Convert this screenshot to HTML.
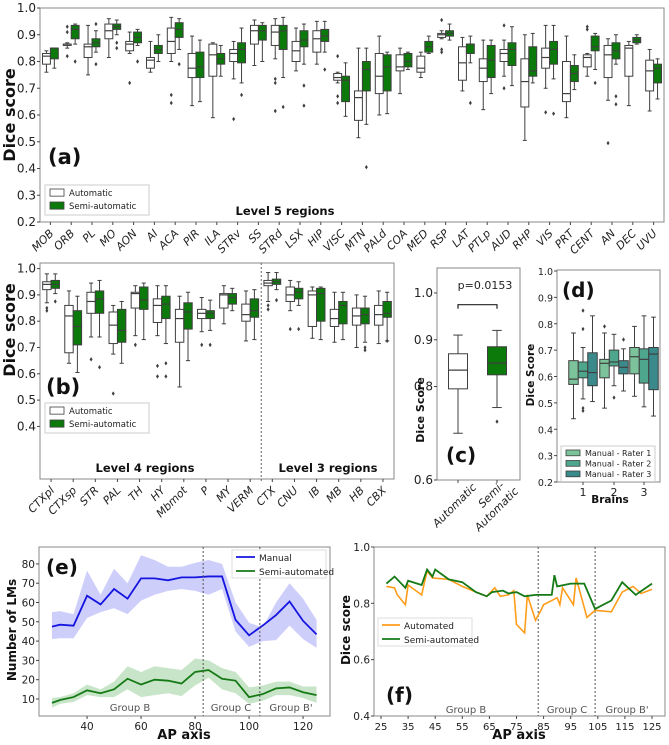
<!DOCTYPE html>
<html><head><meta charset="utf-8">
<style>
body{margin:0;background:#fff;}
svg{display:block;font-family:"DejaVu Sans","Liberation Sans",sans-serif;}
</style></head>
<body>
<svg id="fig" width="669" height="745" viewBox="0 0 669 745" xmlns="http://www.w3.org/2000/svg"></svg>
<script>
// ---------- Panel (a) data: [whislo, q1, median, q3, whishi] ----------
const catsA = ["MOB","ORB","PL","MO","AON","AI","ACA","PIR","ILA","STRv","SS","STRd","LSX","HIP","VISC","MTN","PALd","COA","MED","RSP","LAT","PTLp","AUD","RHP","VIS","PRT","CENT","AN","DEC","UVU"];
const autoA = [[.76,.79,.82,.83,.84],[.85,.86,.865,.865,.87],[.75,.815,.855,.865,.935],[.815,.885,.915,.94,.96],[.83,.84,.865,.875,.91],[.76,.775,.805,.815,.875],[.80,.83,.875,.925,.965],[.635,.74,.775,.83,.895],[.59,.745,.825,.865,.87],[.735,.80,.83,.845,.875],[.785,.865,.915,.935,.955],[.81,.86,.91,.935,.96],[.765,.80,.84,.875,.925],[.79,.835,.885,.915,.95],[.72,.73,.74,.755,.76],[.515,.58,.665,.69,.85],[.60,.68,.745,.83,.895],[.68,.765,.78,.825,.85],[.74,.76,.775,.82,.835],[.885,.89,.90,.905,.915],[.69,.73,.795,.855,.89],[.62,.725,.775,.81,.88],[.745,.80,.83,.845,.88],[.505,.63,.725,.81,.90],[.70,.775,.815,.85,.935],[.59,.65,.68,.80,.895],[.745,.78,.815,.825,.83],[.655,.74,.825,.86,.885],[.635,.745,.85,.86,.875],[.615,.69,.765,.805,.845]];
const semiA = [[.775,.81,.85,.85,.85],[.865,.885,.92,.935,.94],[.835,.855,.87,.885,.915],[.90,.92,.93,.94,.955],[.86,.87,.89,.91,.92],[.80,.83,.845,.86,.90],[.845,.89,.92,.945,.96],[.65,.74,.78,.835,.88],[.745,.79,.81,.83,.86],[.72,.795,.845,.87,.925],[.80,.88,.915,.935,.945],[.74,.845,.915,.935,.965],[.79,.855,.88,.915,.94],[.835,.875,.895,.92,.95],[.595,.65,.73,.745,.795],[.565,.69,.77,.80,.85],[.605,.69,.78,.825,.835],[.77,.78,.80,.83,.835],[.83,.835,.855,.875,.895],[.88,.895,.905,.915,.94],[.795,.83,.865,.865,.895],[.68,.74,.805,.86,.88],[.71,.785,.845,.87,.93],[.72,.745,.765,.855,.905],[.735,.79,.845,.875,.935],[.695,.725,.755,.785,.825],[.77,.84,.855,.895,.905],[.79,.81,.84,.87,.90],[.865,.87,.88,.89,.90],[.66,.72,.775,.79,.81]];
const fliersAutoA = [[],[.82,.91,.93],[],[],[.72],[],[.675,.645],[],[],[.585],[],[.735,.72,.615],[],[],[.82,.67,.645],[],[],[],[],[.955,.845,.835],[],[],[.935,.70],[],[.61],[],[.93,.92],[.495],[],[]];
const fliersSemiA = [[],[.80],[.79,.94],[.85,.87],[.80],[],[.79],[],[],[.675],[],[.63],[.71,.635],[.77],[],[.405],[],[],[],[],[.645],[],[],[],[.605],[],[.72],[.67,.64],[],[]];
const ticksA = [1.0,0.9,0.8,0.7,0.6,0.5,0.4,0.3,0.2];

// ---------- Panel (b) ----------
const catsB = ["CTXpl","CTXsp","STR","PAL","TH","HY","Mbmot","P","MY","VERM","CTX","CNU","IB","MB","HB","CBX"];
const autoB = [[.87,.92,.94,.95,.98],[.64,.68,.82,.86,.915],[.74,.83,.875,.91,.945],[.675,.715,.785,.835,.86],[.745,.85,.905,.91,.935],[.745,.795,.86,.885,.935],[.55,.72,.81,.845,.895],[.76,.81,.83,.845,.89],[.79,.85,.90,.905,.935],[.725,.80,.825,.865,.915],[.875,.935,.945,.955,.985],[.84,.875,.90,.93,.955],[.735,.78,.90,.915,.93],[.72,.78,.81,.845,.91],[.70,.785,.82,.85,.90],[.715,.785,.825,.86,.915]];
const semiB = [[.905,.925,.94,.955,.98],[.605,.71,.78,.84,.895],[.74,.83,.885,.915,.955],[.64,.72,.765,.845,.875],[.73,.845,.88,.93,.945],[.715,.81,.865,.895,.935],[.65,.77,.835,.87,.91],[.765,.81,.83,.84,.88],[.84,.865,.89,.905,.925],[.73,.815,.84,.885,.92],[.92,.94,.95,.96,.985],[.86,.885,.91,.925,.95],[.73,.80,.905,.925,.93],[.73,.79,.86,.875,.91],[.72,.79,.825,.85,.895],[.725,.815,.83,.875,.91]];
const fliersAutoB = [[.85,.84],[],[.655],[.525],[.71],[.63,.59],[],[.71],[],[],[.86,.845],[.77],[],[],[],[]];
const fliersSemiB = [[.875],[],[.625],[],[],[.64,.59],[],[.71],[],[],[.88],[.77],[],[],[.69,.70],[.725]];
const ticksB = [1.0,0.9,0.8,0.7,0.6,0.5,0.4];

// ---------- Panel (c) ----------
const catsC = ["Automatic","Semi-Automatic"];
const boxesC = [[.70,.795,.835,.87,.91],[.755,.825,.85,.885,.92]];
const fliersC = [[],[.725]];
const ticksC = [1.0,0.9,0.8,0.6];

// ---------- Panel (d) ----------
const brainsD = [1,2,3];
const rater1D = [[.44,.57,.59,.66,.765],[.48,.595,.65,.665,.765],[.525,.61,.675,.71,.79]];
const rater2D = [[.515,.595,.62,.655,.71],[.565,.64,.655,.70,.76],[.485,.575,.665,.705,.83]];
const rater3D = [[.505,.565,.615,.69,.83],[.545,.61,.635,.66,.705],[.45,.55,.685,.71,.825]];
const fliers1D = [[],[.79],[]];
const fliers2D = [[.85,.78,.48,.47],[.52],[]];
const fliers3D = [[],[.74],[]];
const ticksD = [1.0,0.9,0.8,0.7,0.6,0.5,0.4,0.3,0.2];

// ---------- Panel (e) ----------
const apE = [27,30,35,40,45,50,55,60,65,70,75,80,85,90,95,100,105,110,115,120,125];
const manualE = [47.5,48.5,48,63.5,59,67,62,72.5,72.5,71.5,73,73,73.5,73.5,51,43,48,53.5,60.5,50.5,43.5];
const manualHiE = [55,55.5,54,76.5,64,77.5,70,84.5,82,78.5,78.5,80.5,82,80,60,49.5,47,60,70,62,51];
const manualLoE = [41,41.5,41.5,52,55,57,54,61,64,66,67,66,64,67,45,37,40,40.5,48,41,36.5];
const semiE = [8,9.5,11,14.5,13,15,20.5,17.5,20,19.5,18,24,25,20.5,19.5,11,12.5,15.5,16,13.5,12];
const semiHiE = [10.5,11,13,17.5,15,19,27,24,27,26,25,31,30,26,24,16,17,19,19,16.5,16.5];
const semiLoE = [5.5,7.5,8.5,12,11,11,15,11,12,13,11.5,17,21,15,13,7.5,9,12,12,10.5,8];
const ticksYE = [80,70,60,50,40,30,20,10];
const ticksXE = [40,60,80,100,120];

// ---------- Panel (f) ----------
const apAutoF = [27,30,31,34,35,40,42,44,50,55,60,64,67,69,72,74,75,78,79,82,84,85,90,91,92,96,97,101,104,110,114,118,121,125];
const autoF = [.86,.855,.83,.795,.865,.83,.915,.89,.885,.86,.84,.825,.855,.825,.83,.845,.725,.695,.83,.74,.775,.795,.82,.795,.855,.795,.89,.75,.775,.77,.84,.86,.835,.85];
const apSemiF = [27,30,34,35,40,42,44,45,50,55,60,64,66,70,72,75,78,82,88,89,90,95,100,104,110,114,119,125];
const semiF = [.87,.895,.855,.88,.865,.92,.895,.92,.885,.875,.84,.825,.84,.845,.835,.84,.825,.83,.83,.9,.86,.87,.87,.78,.81,.875,.83,.87];
const ticksYF = [1.0,0.8,0.6,0.4];
const ticksXF = [25,35,45,55,65,75,85,95,105,115,125];

const NS="http://www.w3.org/2000/svg";
const svg=document.getElementById('fig');
function mk(tag,attrs,parent,text){const e=document.createElementNS(NS,tag);for(const k in attrs)e.setAttribute(k,attrs[k]);if(text!==undefined)e.textContent=text;(parent||svg).appendChild(e);return e;}
function grp(name){const g=mk('g',{});return g;}
const EDGE="#3f3f3f";

function drawBox(g,cx,w,b,fl,fill,name,ys){
  const bg=mk('g',{},g);
  
  
  mk('line',{x1:cx,x2:cx,y1:ys(b[0]),y2:ys(b[1]),stroke:EDGE,'stroke-width':1},bg);
  mk('line',{x1:cx,x2:cx,y1:ys(b[3]),y2:ys(b[4]),stroke:EDGE,'stroke-width':1},bg);
  mk('line',{x1:cx-w/4,x2:cx+w/4,y1:ys(b[0]),y2:ys(b[0]),stroke:EDGE,'stroke-width':1},bg);
  mk('line',{x1:cx-w/4,x2:cx+w/4,y1:ys(b[4]),y2:ys(b[4]),stroke:EDGE,'stroke-width':1},bg);
  mk('rect',{x:cx-w/2,y:ys(b[3]),width:w,height:Math.max(0.8,ys(b[1])-ys(b[3])),fill:fill,stroke:EDGE,'stroke-width':1},bg);
  mk('line',{x1:cx-w/2,x2:cx+w/2,y1:ys(b[2]),y2:ys(b[2]),stroke:EDGE,'stroke-width':1.2},bg);
  (fl||[]).forEach(v=>{const y=ys(v);mk('path',{d:`M${cx} ${y-2.2}L${cx+1.5} ${y}L${cx} ${y+2.2}L${cx-1.5} ${y}Z`,fill:EDGE},bg);});
}
function axesBox(g,x0,y0,x1,y1){mk('rect',{x:x0,y:y0,width:x1-x0,height:y1-y0,fill:'none',stroke:'#888','stroke-width':1},g);}
function yTicks(g,ticks,ys,x,fmt,size){ticks.forEach(t=>{const y=ys(t);mk('line',{x1:x-3,x2:x,y1:y,y2:y,stroke:'#444'},g);const tx=mk('text',{x:x-4,y:y+4,'font-size':size||11,'text-anchor':'end',fill:'#222'},g,fmt(t));});}
function rotLabel(g,x,y,s,size){const t=mk('text',{x:x,y:y,'font-size':size||11,'text-anchor':'end',transform:`rotate(-45 ${x} ${y})`,'font-style':'italic',fill:'#222'},g,s);}
function legendBoxes(g,x,y,w,entries,size,step){step=step||15;mk('rect',{x:x,y:y,width:w,height:entries.length*step+4,fill:'#fff',stroke:'#ccc'},g);entries.forEach((e,i)=>{const eg=mk('g',{},g);mk('rect',{x:x+5,y:y+4+i*step,width:14,height:step*0.55,fill:e[1],stroke:EDGE,'stroke-width':0.8},eg);mk('text',{x:x+24,y:y+4+i*step+step*0.55,'font-size':size||9,fill:'#222'},eg,e[0]);});}

// ===== Panel a =====
(function(){
 const g=grp('panel-a');
 const X0=40,X1=664,Y0=8,Y1=222;
 const ys=v=>Y1-(v-0.2)/0.8*(Y1-Y0);
 axesBox(g,X0,Y0,X1,Y1);
 yTicks(g,ticksA,ys,X0,t=>t.toFixed(1),12);
 const slot=(X1-X0)/catsA.length,w=slot*0.38;
 catsA.forEach((c,i)=>{const cx=X0+slot*(i+0.5);
  drawBox(g,cx-w/2,w,autoA[i],fliersAutoA[i],'#fff','box-auto-'+c,ys);
  drawBox(g,cx+w/2,w,semiA[i],fliersSemiA[i],'#0b7a0b','box-semi-'+c,ys);
  mk('line',{x1:cx,x2:cx,y1:Y1,y2:Y1+3,stroke:'#444'},g);
  rotLabel(g,cx+4,Y1+12,c,11);
 });
 const t=mk('text',{x:48,y:164,'font-size':21,'font-weight':'bold',fill:'#111'},g,'(a)');
 const l=mk('text',{x:285,y:215,'font-size':11.5,'font-weight':'bold','text-anchor':'middle',fill:'#111'},g,'Level 5 regions');
 const yl=mk('text',{x:0,y:0,'font-size':16,'font-weight':'bold','text-anchor':'middle',transform:'translate(15 115) rotate(-90)',fill:'#111'},g,'Dice score');
 const lg=mk('g',{},g);
 legendBoxes(lg,45,185,104,[['Automatic','#fff'],['Semi-automatic','#0b7a0b']],8.5,13);
})();

// ===== Panel b =====
(function(){
 const g=grp('panel-b');
 const X0=40,X1=394,Y0=263,Y1=479;
 const ys=v=>Y1-(v-0.2)*263;
 axesBox(g,X0,Y0,X1,Y1);
 yTicks(g,ticksB,ys,X0,t=>t.toFixed(1),12);
 const slot=(X1-X0)/catsB.length,w=slot*0.38;
 catsB.forEach((c,i)=>{const cx=X0+slot*(i+0.5);
  drawBox(g,cx-w/2,w,autoB[i],fliersAutoB[i],'#fff','box-auto-'+c,ys);
  drawBox(g,cx+w/2,w,semiB[i],fliersSemiB[i],'#0b7a0b','box-semi-'+c,ys);
  mk('line',{x1:cx,x2:cx,y1:Y1,y2:Y1+3,stroke:'#444'},g);
  rotLabel(g,cx+4,Y1+12,c,11);
 });
 const dx=X0+slot*10;
 mk('line',{x1:dx,x2:dx,y1:Y0,y2:Y1+4,stroke:'#666','stroke-dasharray':'2,2'},g);
 const t=mk('text',{x:46,y:394,'font-size':21,'font-weight':'bold',fill:'#111'},g,'(b)');
 const l1=mk('text',{x:145,y:472,'font-size':11.5,'font-weight':'bold','text-anchor':'middle',fill:'#111'},g,'Level 4 regions');
 const l2=mk('text',{x:328,y:472,'font-size':11.5,'font-weight':'bold','text-anchor':'middle',fill:'#111'},g,'Level 3 regions');
 const yl=mk('text',{x:0,y:0,'font-size':16,'font-weight':'bold','text-anchor':'middle',transform:'translate(15 330) rotate(-90)',fill:'#111'},g,'Dice score');
 const lg=mk('g',{},g);
 legendBoxes(lg,45,403,104,[['Automatic','#fff'],['Semi-automatic','#0b7a0b']],8.5,13);
})();

// ===== Panel c =====
(function(){
 const g=grp('panel-c');
 const X0=437,X1=520,Y0=268,Y1=480;
 const ys=v=>Y1-(v-0.6)*467.5;
 axesBox(g,X0,Y0,X1,Y1);
 yTicks(g,ticksC,ys,X0,t=>t.toFixed(1),12);
 const cxs=[458,497];
 catsC.forEach((c,i)=>{drawBox(g,cxs[i],19,boxesC[i],fliersC[i],i?'#0b7a0b':'#fff','box-'+c.toLowerCase(),ys);mk('line',{x1:cxs[i],x2:cxs[i],y1:Y1,y2:Y1+3,stroke:'#444'},g);});
 const by=ys(0.975);
 mk('path',{d:`M${cxs[0]} ${by+4}V${by}H${cxs[1]}V${by+4}`,fill:'none',stroke:'#222','stroke-width':1.2},g);
 const p=mk('text',{x:485,y:289,'font-size':11,'text-anchor':'middle',fill:'#222'},g,'p=0.0153');
 const t=mk('text',{x:446,y:462,'font-size':20,'font-weight':'bold',fill:'#111'},g,'(c)');
 rotLabel(g,477,488,'Automatic',11);
 rotLabel(g,505,486,'Semi-',11);
 rotLabel(g,519,492,'Automatic',11);
 const yl=mk('text',{x:0,y:0,'font-size':11,'font-weight':'bold','text-anchor':'middle',transform:'translate(424 410) rotate(-90)',fill:'#111'},g,'Dice Score');
})();

// ===== Panel d =====
(function(){
 const g=grp('panel-d');
 const X0=557,X1=660,Y0=270,Y1=482;
 const ys=v=>Y1-(v-0.2)*(Y1-271)/0.8;
 axesBox(g,X0,Y0,X1,Y1);
 yTicks(g,ticksD,ys,X0,t=>t.toFixed(1),9.5);
 const cxs=[583,614,644],w=9.5;
 const cols=['#7cc29a','#4ea68c','#3a8a8c'];
 brainsD.forEach((b,i)=>{const cx=cxs[i];
  drawBox(g,cx-w,w,rater1D[i],fliers1D[i],cols[0],'box-brain'+b+'-rater1',ys);
  drawBox(g,cx,w,rater2D[i],fliers2D[i],cols[1],'box-brain'+b+'-rater2',ys);
  drawBox(g,cx+w,w,rater3D[i],fliers3D[i],cols[2],'box-brain'+b+'-rater3',ys);
  mk('line',{x1:cx,x2:cx,y1:Y1,y2:Y1+3,stroke:'#444'},g);
  const tl=mk('text',{x:cx,y:Y1+14,'font-size':11,'text-anchor':'middle',fill:'#222'},g,String(b));
 });
 const t=mk('text',{x:562,y:297,'font-size':20,'font-weight':'bold',fill:'#111'},g,'(d)');
 const xl=mk('text',{x:610,y:503,'font-size':10.5,'font-weight':'bold','text-anchor':'middle',fill:'#111'},g,'Brains');
 const yl=mk('text',{x:0,y:0,'font-size':10.5,'font-weight':'bold','text-anchor':'middle',transform:'translate(534 375) rotate(-90)',fill:'#111'},g,'Dice Score');
 const lg=mk('g',{},g);
 legendBoxes(lg,561,446,94,[['Manual - Rater 1',cols[0]],['Manual - Rater 2',cols[1]],['Manual - Rater 3',cols[2]]],8,10.5);
})();

// ===== Panel e =====
(function(){
 const g=grp('panel-e');
 const X0=39,X1=330,Y0=547,Y1=716;
 const xs=v=>X0+(v-22.2)*2.7, ys=v=>699-(v-10)*1.93;
 axesBox(g,X0,Y0,X1,Y1);
 yTicks(g,ticksYE,ys,X0,t=>String(t),10.5);
 ticksXE.forEach(t=>{const x=xs(t);mk('line',{x1:x,x2:x,y1:Y1,y2:Y1+3,stroke:'#444'},g);const tl=mk('text',{x:x,y:Y1+14,'font-size':10.5,'text-anchor':'middle',fill:'#222'},g,String(t));});
 function band(hi,lo,fill,name){let d='M'+apE.map((a,i)=>xs(a)+' '+ys(hi[i])).join('L');d+='L'+apE.slice().reverse().map((a,j)=>{const i=apE.length-1-j;return xs(a)+' '+ys(lo[i]);}).join('L')+'Z';const p=mk('path',{d:d,fill:fill,stroke:'none'},g);}
 function line(vals,col,name){const p=mk('polyline',{points:apE.map((a,i)=>xs(a)+','+ys(vals[i])).join(' '),fill:'none',stroke:col,'stroke-width':1.8},g);}
 band(manualHiE,manualLoE,'rgba(60,60,240,0.25)','manual-band');
 band(semiHiE,semiLoE,'rgba(40,150,40,0.25)','semi-band');
 line(manualE,'#1515e0','manual-line');
 line(semiE,'#157a15','semi-line');
 [83,104].forEach(v=>mk('line',{x1:xs(v),x2:xs(v),y1:Y0,y2:Y1,stroke:'#555','stroke-dasharray':'2,2'},g));
 [['Group B',130],['Group C',231],['Group B\'',291]].forEach(s=>{const t=mk('text',{x:s[1],y:711,'font-size':10,'text-anchor':'middle',fill:'#555'},g,s[0]);});
 const t=mk('text',{x:46,y:574,'font-size':20,'font-weight':'bold',fill:'#111'},g,'(e)');
 const xl=mk('text',{x:184,y:739,'font-size':13,'font-weight':'bold','text-anchor':'middle',fill:'#111'},g,'AP axis');
 const yl=mk('text',{x:0,y:0,'font-size':12,'font-weight':'bold','text-anchor':'middle',transform:'translate(16 630) rotate(-90)',fill:'#111'},g,'Number of LMs');
 const lg=mk('g',{},g);
 mk('rect',{x:232,y:550,width:94,height:28,fill:'#fff',stroke:'#ddd'},lg);
 mk('line',{x1:236,x2:255,y1:557,y2:557,stroke:'#1515e0','stroke-width':1.8},lg);
 mk('text',{x:259,y:561,'font-size':9,fill:'#222'},lg,'Manual');
 mk('line',{x1:236,x2:255,y1:571,y2:571,stroke:'#157a15','stroke-width':1.8},lg);
 mk('text',{x:259,y:575,'font-size':9,fill:'#222'},lg,'Semi-automated');
})();

// ===== Panel f =====
(function(){
 const g=grp('panel-f');
 const X0=374,X1=665,Y0=547,Y1=716;
 const xs=v=>381+(v-25)*2.71, ys=v=>Y1-(v-0.4)*281.7;
 mk('rect',{x:X0,y:Y0,width:X1-X0,height:Y1-Y0,fill:'none',stroke:'#888'},g);
 yTicks(g,ticksYF,ys,X0,t=>t.toFixed(1),10.5);
 ticksXF.forEach(t=>{const x=xs(t);mk('line',{x1:x,x2:x,y1:Y1,y2:Y1+3,stroke:'#444'},g);const tl=mk('text',{x:x,y:Y1+14,'font-size':10,'text-anchor':'middle',fill:'#222'},g,String(t));});
 [83,104].forEach(v=>mk('line',{x1:xs(v),x2:xs(v),y1:Y0,y2:Y1,stroke:'#555','stroke-dasharray':'2,2'},g));
 const a=mk('polyline',{points:apAutoF.map((v,i)=>xs(v)+','+ys(autoF[i])).join(' '),fill:'none',stroke:'#ff9d1a','stroke-width':1.6},g);
 const s=mk('polyline',{points:apSemiF.map((v,i)=>xs(v)+','+ys(semiF[i])).join(' '),fill:'none',stroke:'#157a15','stroke-width':1.8},g);
 [['Group B',466],['Group C',567],['Group B\'',627]].forEach(q=>{const t=mk('text',{x:q[1],y:713,'font-size':10,'text-anchor':'middle',fill:'#555'},g,q[0]);});
 const t=mk('text',{x:386,y:702,'font-size':20,'font-weight':'bold',fill:'#111'},g,'(f)');
 const xl=mk('text',{x:519,y:739,'font-size':13,'font-weight':'bold','text-anchor':'middle',fill:'#111'},g,'AP axis');
 const yl=mk('text',{x:0,y:0,'font-size':12,'font-weight':'bold','text-anchor':'middle',transform:'translate(350 630) rotate(-90)',fill:'#111'},g,'Dice score');
 const lg=mk('g',{},g);
 mk('rect',{x:378,y:618,width:94,height:28,fill:'#fff',stroke:'#ddd'},lg);
 mk('line',{x1:382,x2:400,y1:625,y2:625,stroke:'#ff9d1a','stroke-width':1.8},lg);
 mk('text',{x:404,y:629,'font-size':9,fill:'#222'},lg,'Automated');
 mk('line',{x1:382,x2:400,y1:639,y2:639,stroke:'#157a15','stroke-width':1.8},lg);
 mk('text',{x:404,y:643,'font-size':9,fill:'#222'},lg,'Semi-automated');
})();
</script>
</body></html>
